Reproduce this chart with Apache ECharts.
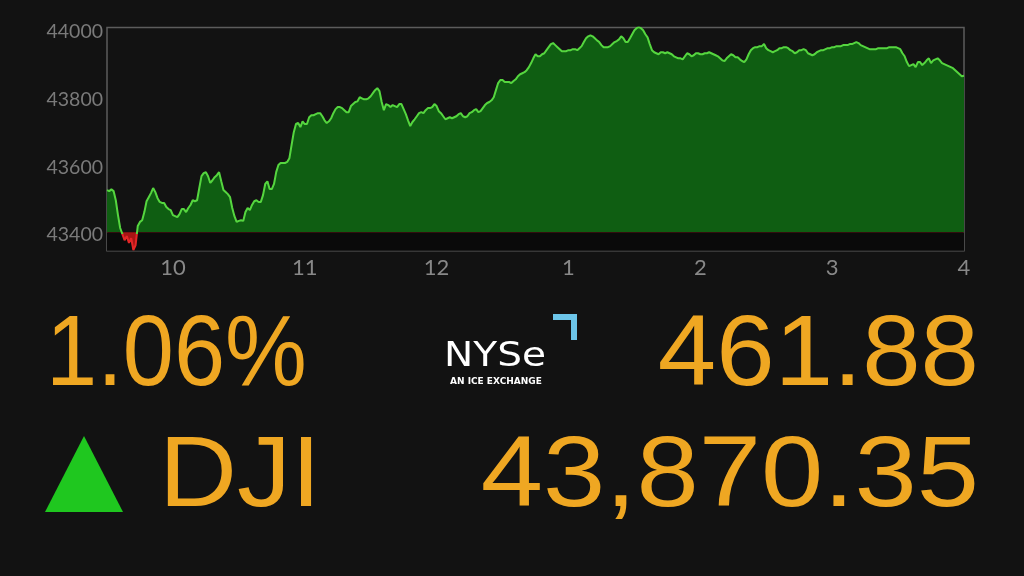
<!DOCTYPE html>
<html><head><meta charset="utf-8">
<script src="https://cdn.jsdelivr.net/npm/echarts@6/dist/echarts.min.js"></script>
<style>html,body{margin:0;padding:0;background:#121212;}#c{width:1024px;height:576px;}</style>
</head><body><div id="c"></div>
<script>
// Dow Jones intraday, one value per minute from 9:30 (index 0) to 16:00 (index 390)
const dowValues = [
43533,43530,43535,43530,43503,43459,43421,43403,43385,43397,
43377,43391,43356,43370,43427,43439,43444,43468,43500,43512,
43524,43539,43527,43509,43498,43495,43495,43483,43477,43474,
43459,43456,43453,43462,43477,43477,43468,43480,43489,43503,
43500,43503,43539,43574,43583,43586,43574,43554,43562,43571,
43577,43586,43559,43533,43527,43521,43512,43480,43456,43439,
43442,43444,43442,43468,43480,43474,43489,43500,43503,43498,
43498,43518,43551,43559,43536,43536,43551,43586,43607,43613,
43613,43613,43616,43627,43666,43704,43728,43731,43719,43736,
43728,43728,43748,43754,43754,43757,43760,43760,43751,43739,
43731,43736,43745,43760,43772,43778,43778,43775,43769,43763,
43763,43781,43787,43793,43795,43807,43804,43801,43801,43804,
43810,43819,43828,43834,43825,43793,43769,43787,43784,43778,
43784,43781,43778,43787,43787,43772,43757,43739,43722,43734,
43742,43751,43760,43763,43760,43769,43775,43775,43778,43787,
43781,43766,43760,43751,43742,43745,43748,43745,43748,43751,
43757,43760,43751,43748,43751,43760,43763,43769,43772,43763,
43766,43775,43784,43790,43793,43798,43807,43828,43849,43858,
43858,43852,43852,43852,43849,43855,43860,43869,43875,43878,
43881,43887,43896,43908,43922,43934,43928,43928,43934,43937,
43946,43955,43964,43967,43961,43955,43949,43943,43943,43943,
43946,43946,43949,43949,43946,43952,43958,43970,43981,43987,
43990,43987,43981,43975,43970,43961,43955,43955,43955,43958,
43964,43970,43973,43978,43987,43981,43970,43970,43981,43993,
44005,44011,44014,44011,44005,43993,43984,43964,43946,43940,
43937,43934,43940,43940,43937,43940,43937,43934,43928,43925,
43922,43922,43919,43928,43937,43934,43928,43931,43937,43937,
43934,43934,43937,43937,43940,43937,43934,43931,43928,43922,
43916,43914,43922,43928,43934,43931,43925,43925,43919,43914,
43911,43919,43934,43946,43952,43955,43955,43958,43958,43964,
43952,43946,43943,43940,43943,43946,43952,43952,43955,43955,
43952,43946,43943,43937,43940,43946,43946,43949,43946,43937,
43934,43931,43934,43940,43943,43946,43946,43949,43952,43952,
43955,43955,43958,43958,43958,43961,43961,43961,43964,43964,
43967,43970,43967,43961,43958,43955,43952,43949,43949,43949,
43949,43952,43952,43952,43952,43952,43955,43955,43955,43955,
43952,43949,43937,43928,43911,43899,43902,43905,43896,43911,
43911,43902,43908,43916,43922,43908,43916,43919,43922,43916,
43908,43905,43902,43899,43896,43893,43887,43881,43875,43869,
43870.35
];
const prevClose = 43408.47;
const yTickValues = [43400, 43600, 43800, 44000];
const xTickMinutes = [30, 90, 150, 210, 270, 330, 390];
const xTickLabels = ['10', '11', '12', '1', '2', '3', '4'];
const pctText = '1.06%';
const changeText = '461.88';
const indexText = 'DJI';
const closeText = '43,870.35';

const seriesData = dowValues.map((v, i) => [i, v]);
const dataMax = Math.max(...dowValues);
const dataMin = Math.min(...dowValues);
const split = (dataMax - prevClose) / (dataMax - dataMin);
function twoTone(up, down) {
  return new echarts.graphic.LinearGradient(0, 0, 0, 1, [
    { offset: 0, color: up }, { offset: split, color: up },
    { offset: split, color: down }, { offset: 1, color: down }
  ]);
}
const orange = '#efa722';
const bigFont = '"Liberation Sans", Arial, sans-serif';
function bigText(text, x, y, align, sx) {
  return { type: 'text', x: x, y: y, scaleX: sx, style: { text: text, fill: orange, fontSize: 100, fontFamily: bigFont,
    textAlign: align, textVerticalAlign: 'middle', align: align, verticalAlign: 'middle' } };
}

const chart = echarts.init(document.getElementById('c'));
chart.setOption({
  backgroundColor: '#121212',
  animation: false,
  grid: { left: 107, right: 60, top: 27.5, bottom: 325.3, show: true, borderColor: '#5c5c5c', borderWidth: 1.5, backgroundColor: 'transparent' },
  xAxis: {
    type: 'value', min: 0, max: 390,
    axisLine: { show: false }, axisTick: { show: false }, splitLine: { show: false },
    axisLabel: {
      customValues: xTickMinutes,
      formatter: v => xTickLabels[xTickMinutes.indexOf(v)],
      color: '#888888', fontSize: 22, fontFamily: 'Lato', margin: 6
    }
  },
  yAxis: {
    type: 'value', min: 43354, max: 44013,
    axisLine: { show: false }, axisTick: { show: false }, splitLine: { show: false },
    axisLabel: { customValues: yTickValues, formatter: v => String(v), color: '#7a7a7a', fontSize: 19.5, fontFamily: 'Lato', margin: 4 }
  },
  series: [
    { type: 'line', data: seriesData, showSymbol: false, lineStyle: { width: 0 },
      areaStyle: { origin: prevClose, opacity: 1, color: twoTone('#0f5e12', '#a81414') }, z: 2,
      markArea: { silent: true, itemStyle: { color: '#0a0a0a' }, data: [[{ yAxis: 43354 }, { yAxis: prevClose }]] } },
    { type: 'line', data: seriesData, showSymbol: false, lineStyle: { width: 2, color: twoTone('#55d63f', '#e32626') }, z: 3 }
  ],
  graphic: [
    bigText(pctText, 46, 357, 'left', 0.92),
    bigText(changeText, 979, 357, 'right', 1.05),
    bigText(indexText, 159, 478, 'left', 1.08),
    bigText(closeText, 979, 478, 'right', 1.12),
    { type: 'polygon', shape: { points: [[45, 512], [123, 512], [84, 436]] }, style: { fill: '#1fc71f' } },
    { type: 'text', x: 444, y: 357, scaleX: 1.15, style: { text: 'NYSe', fill: '#ffffff', fontSize: 34, fontWeight: 500, fontFamily: '"DejaVu Sans"', textAlign: 'left', textVerticalAlign: 'middle', align: 'left', verticalAlign: 'middle' } },
    { type: 'text', x: 450, y: 382, style: { text: 'AN ICE EXCHANGE', fill: '#ffffff', fontSize: 9, fontWeight: 'bold', fontFamily: '"DejaVu Sans"', textAlign: 'left', textVerticalAlign: 'middle', align: 'left', verticalAlign: 'middle' } },
    { type: 'rect', shape: { x: 553, y: 314, width: 24, height: 6 }, style: { fill: '#6cc5e9' } },
    { type: 'rect', shape: { x: 571, y: 314, width: 6, height: 26 }, style: { fill: '#6cc5e9' } }
  ]
});
</script>
</body></html>
